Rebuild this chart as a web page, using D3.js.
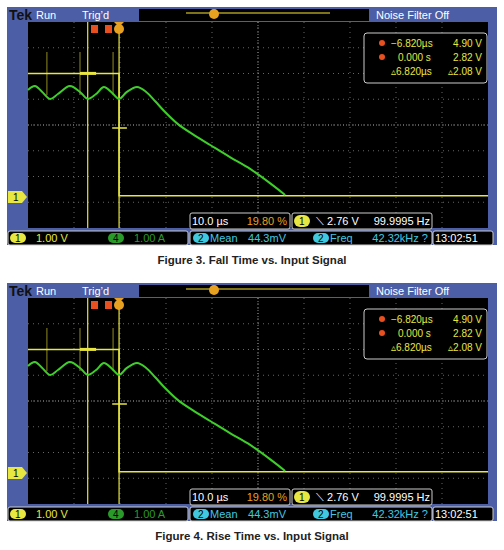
<!DOCTYPE html>
<html><head><meta charset="utf-8">
<script src="https://cdn.jsdelivr.net/npm/d3@7"></script>
<style>body{margin:0;background:#fff}svg text{font-family:"Liberation Sans Narrow","Liberation Sans",Arial,sans-serif}</style>
</head><body>
<div id="chart"></div>
<script>
// green trace: time (us) vs divisions above ch1 ground
var greenT = [-19.8,-18.3,-16.7,-15.0,-13.3,-10.7,-8.5,-6.8,-5.0,-3.3,-1.5,0,1.7,3.9,5.9,7.8,10.0,12.8,15.9,19.8,24.1,28.5,32.8,36.1];
var greenV = [4.16,4.31,4.08,3.81,4.00,4.31,4.08,3.81,4.00,4.27,4.04,3.81,4.08,4.27,4.08,3.73,3.30,2.83,2.45,2.02,1.55,1.09,0.54,0.08];
var yellowT = [-19.8,0,0,80.2];
var yellowV = [4.8,4.8,0.05,0.05];
var spikesT = [-15.7,-8.5,-1.3];
var cursorT = [-6.82,0];
var captions = ["Figure 3. Fall Time vs. Input Signal","Figure 4. Rise Time vs. Input Signal"];
var readout = [["−6.820µs","4.90 V"],["0.000 s","2.82 V"],["▵6.820µs","▵2.08 V"]];

var svg = d3.select("#chart").append("svg").attr("width",504).attr("height",550);
var blue = "#4b5ea6", yel = "#e8e640", grn = "#3fcf2a";

function panel(oy, caption) {
    var g = svg.append("g").attr("transform","translate(0,"+oy+")");
    var x = d3.scaleLinear().domain([-19.8,80.2]).range([28,488]);
    var y = d3.scaleLinear().domain([0,1]).range([197,171.25]);
    g.append("rect").attr("x",7).attr("y",7).attr("width",490).attr("height",238).attr("fill",blue);
    g.append("rect").attr("x",28).attr("y",22).attr("width",460).attr("height",206).attr("fill","#000");
    // top bar
    g.append("text").attr("x",9).attr("y",20).attr("font-family","Liberation Serif").attr("font-weight","bold").attr("font-size",14).attr("fill","#111").text("Tek");
    g.append("text").attr("x",36).attr("y",19).attr("font-size",11).attr("fill","#fff").text("Run");
    g.append("text").attr("x",82).attr("y",19).attr("font-size",11).attr("fill","#fff").text("Trig’d");
    g.append("rect").attr("x",139).attr("y",9).attr("width",230).attr("height",12).attr("fill","#000");
    g.append("line").attr("x1",186).attr("x2",330).attr("y1",13).attr("y2",13).attr("stroke","#a89a20").attr("stroke-width",1.5);
    g.append("circle").attr("cx",214).attr("cy",14).attr("r",5).attr("fill","#e8a020");
    g.append("text").attr("x",376).attr("y",19).attr("font-size",11).attr("fill","#fff").text("Noise Filter Off");
    // graticule
    var grid = g.append("g").attr("stroke","#666").attr("stroke-dasharray","1,4");
    d3.range(1,10).forEach(function(i){ grid.append("line").attr("x1",28+i*46).attr("x2",28+i*46).attr("y1",22).attr("y2",228); });
    d3.range(1,8).forEach(function(i){ grid.append("line").attr("x1",28).attr("x2",488).attr("y1",22+i*25.75).attr("y2",22+i*25.75); });
    g.append("line").attr("x1",28+5*46).attr("x2",28+5*46).attr("y1",22).attr("y2",228).attr("stroke","#888").attr("stroke-dasharray","1,2");
    g.append("line").attr("x1",28).attr("x2",488).attr("y1",22+4*25.75).attr("y2",22+4*25.75).attr("stroke","#888").attr("stroke-dasharray","1,2");
    // cursors
    cursorT.forEach(function(t){ g.append("line").attr("x1",x(t)).attr("x2",x(t)).attr("y1",22).attr("y2",228).attr("stroke",yel).attr("stroke-width",1.2); });
    spikesT.forEach(function(t){ g.append("line").attr("x1",x(t)).attr("x2",x(t)).attr("y1",52).attr("y2",95).attr("stroke","#8a8620").attr("stroke-width",1.5).attr("opacity",0.7); });
    g.append("line").attr("x1",x(-8.5)).attr("x2",x(-5)).attr("y1",y(4.8)).attr("y2",y(4.8)).attr("stroke",yel).attr("stroke-width",3);
    g.append("line").attr("x1",x(-1.5)).attr("x2",x(1.7)).attr("y1",128).attr("y2",128).attr("stroke",yel).attr("stroke-width",1.5);
    var line = d3.line().x(function(d){return x(d[0]);}).y(function(d){return y(d[1]);});
    g.append("path").attr("d",line(d3.zip(yellowT,yellowV))).attr("fill","none").attr("stroke",yel).attr("stroke-width",1.5);
    g.append("path").attr("d",d3.line().curve(d3.curveCatmullRom).x(function(d){return x(d[0]);}).y(function(d){return y(d[1]);})(d3.zip(greenT,greenV)))
        .attr("fill","none").attr("stroke",grn).attr("stroke-width",2);
    // cursor markers
    g.append("rect").attr("x",91).attr("y",25).attr("width",7).attr("height",8).attr("fill","#e85020");
    g.append("rect").attr("x",105).attr("y",25).attr("width",7).attr("height",8).attr("fill","#e85020");
    g.append("circle").attr("cx",119).attr("cy",29).attr("r",5).attr("fill","#e8a020");
    g.append("path").attr("d","M114,22L124,22L119,27Z").attr("fill","#e8a020");
    // ch1 marker
    g.append("path").attr("d","M8,191L22,191L27,197L22,203L8,203Z").attr("fill",yel);
    g.append("text").attr("x",13).attr("y",201).attr("font-size",10).attr("fill","#000").text("1");
    // readout box
    g.append("rect").attr("x",364).attr("y",33).attr("width",123).attr("height",50).attr("fill","#000").attr("stroke","#ccc").attr("rx",3);
    readout.forEach(function(r,i){
        var yy = 47+i*14;
        if (i<2) g.append("circle").attr("cx",382).attr("cy",yy-4).attr("r",3).attr("fill","#e85020");
        g.append("text").attr("x",i==2?391:(i==0?391:398)).attr("y",yy).attr("font-size",10).attr("fill",yel).text(r[0]);
        g.append("text").attr("x",482).attr("y",yy).attr("text-anchor","end").attr("font-size",10).attr("fill",yel).text(r[1]);
    });
    // lower readouts
    g.append("rect").attr("x",190).attr("y",213).attr("width",100).attr("height",16).attr("fill","#000").attr("stroke","#ccc").attr("rx",2);
    g.append("text").attr("x",192).attr("y",225).attr("font-size",11).attr("fill","#fff").text("10.0 µs");
    g.append("text").attr("x",287).attr("y",225).attr("text-anchor","end").attr("font-size",11).attr("fill","#e8a020").text("19.80 %");
    g.append("rect").attr("x",292).attr("y",213).attr("width",140).attr("height",16).attr("fill","#000").attr("stroke","#ccc").attr("rx",2);
    g.append("rect").attr("x",294).attr("y",215).attr("width",16).attr("height",12).attr("rx",6).attr("fill",yel);
    g.append("text").attr("x",299).attr("y",225).attr("font-size",10).attr("fill","#000").text("1");
    g.append("text").attr("x",316).attr("y",225).attr("font-size",11).attr("fill","#fff").text("⟍ 2.76 V");
    g.append("text").attr("x",430).attr("y",225).attr("text-anchor","end").attr("font-size",11).attr("fill","#fff").text("99.9995 Hz");
    // bottom bar
    [[8,180],[190,242],[433,60]].forEach(function(b){
        g.append("rect").attr("x",b[0]).attr("y",231).attr("width",b[1]).attr("height",14).attr("fill","#000").attr("stroke","#ccc").attr("rx",2);
    });
    g.append("rect").attr("x",10).attr("y",233).attr("width",16).attr("height",10).attr("rx",5).attr("fill",yel);
    g.append("text").attr("x",15).attr("y",242).attr("font-size",10).attr("fill","#000").text("1");
    g.append("text").attr("x",36).attr("y",242).attr("font-size",11).attr("fill",yel).text("1.00 V");
    g.append("rect").attr("x",108).attr("y",233).attr("width",16).attr("height",10).attr("rx",5).attr("fill","#2a9a2a");
    g.append("text").attr("x",113).attr("y",242).attr("font-size",10).attr("fill","#000").text("4");
    g.append("text").attr("x",134).attr("y",242).attr("font-size",11).attr("fill","#2a9a2a").text("1.00 A");
    [[193,"Mean","44.3mV",258],[313,"Freq","42.32kHz  ?",428]].forEach(function(m){
        g.append("rect").attr("x",m[0]).attr("y",233).attr("width",16).attr("height",10).attr("rx",5).attr("fill","#40c8e0");
        g.append("text").attr("x",m[0]+5).attr("y",242).attr("font-size",10).attr("fill","#000").text("2");
        g.append("text").attr("x",m[0]+17).attr("y",242).attr("font-size",11).attr("fill","#40c8e0").text(m[1]);
        g.append("text").attr("x",m[3]+(m[0]==193?28:0)).attr("y",242).attr("text-anchor","end").attr("font-size",11).attr("fill","#40c8e0").text(m[2]);
    });
    g.append("text").attr("x",435).attr("y",242).attr("font-size",11).attr("fill","#fff").text("13:02:51");
    g.append("text").attr("x",252).attr("y",264).attr("text-anchor","middle").attr("font-family","Liberation Sans").attr("font-weight","bold").attr("font-size",11.5).attr("fill","#222").text(caption);
}
panel(0, captions[0]);
panel(276, captions[1]);
</script>
</body></html>
